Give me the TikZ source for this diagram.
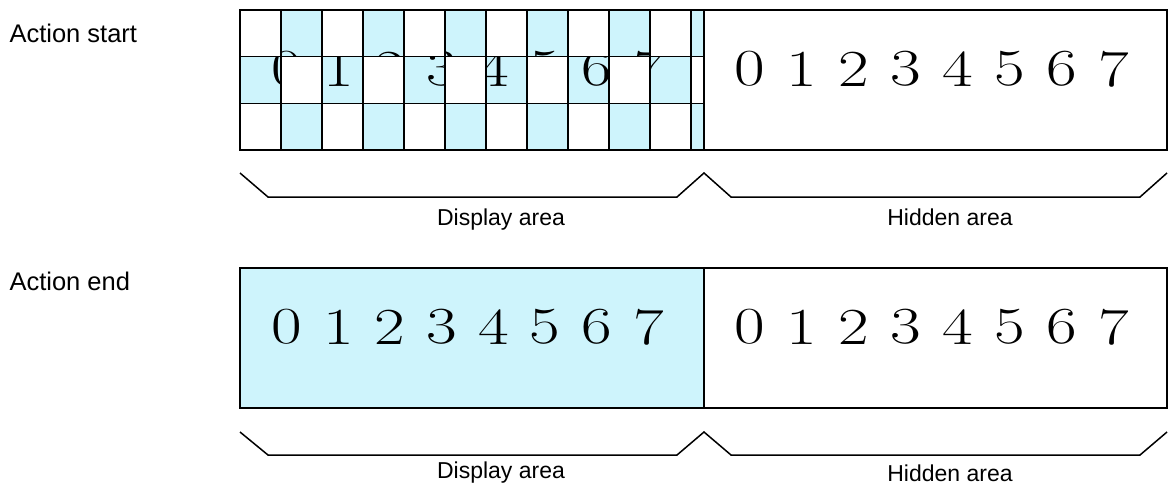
\documentclass[tikz,border=0pt]{standalone}
\usepackage{graphicx}
\usepackage{fontspec}
\newfontfamily\arialfont{Liberation Sans}
\usepackage{tikz}
\usetikzlibrary{positioning}
\usetikzlibrary{calc}
\definecolor{cellblue}{RGB}{206,244,252}

\begin{document}
\begin{tikzpicture}[
        x=1pt, y=-1pt,
        digit/.style={inner sep=0pt, font=\fontsize{52}{60}\selectfont},
        areatext/.style={inner sep=0pt, anchor=base,
                    font=\arialfont\fontsize{23}{28}\selectfont},
        rowtitle/.style={inner sep=0pt, anchor=base west,
                    font=\arialfont\fontsize{25.5}{30}\selectfont},
        frame/.style={draw, line width=1.5pt},
        brace/.style={draw, line width=1.5pt, line join=miter}
    ]
    \useasboundingbox (0,0) rectangle (1172,485);

    % ------- Action start (top row) -------
    \node[rowtitle] (tstart) at (9.3,42.7) {Action start};

    % blue cells under the digits
    \foreach \r in {0,1,2} {
        \foreach \c in {0,...,11} {
            \pgfmathtruncatemacro\s{\r+\c}
            \pgfmathsetmacro\xl{240+41*\c}
            \pgfmathsetmacro\xr{min(240+41*(\c+1),704)}
            \pgfmathsetmacro\yt{10+46.667*\r}
            \ifodd\s
                \fill[cellblue] (\xl,\yt) rectangle (\xr,\yt+46.667);
            \fi
        }
    }

    \foreach \i in {0,...,7} {
        \node[digit] (sd\i) at ({286.7+51.7*\i},69) {\scalebox{1.28}[1]{\i}};
        \node[digit] (sh\i) at ({749.7+52*\i},69) {\scalebox{1.28}[1]{\i}};
    }

    % white cells hide the digits
    \foreach \r in {0,1,2} {
        \foreach \c in {0,...,11} {
            \pgfmathtruncatemacro\s{\r+\c}
            \pgfmathsetmacro\xl{240+41*\c}
            \pgfmathsetmacro\xr{min(240+41*(\c+1),704)}
            \pgfmathsetmacro\yt{10+46.667*\r}
            \ifodd\s\else
                \fill[white] (\xl,\yt) rectangle (\xr,\yt+46.667);
            \fi
        }
    }

    % grid lines
    \foreach \c in {1,...,11}
        \draw[line width=1.5pt] ({240+41*\c},10) -- ({240+41*\c},150);
    \draw[line width=1.5pt] (240,56.667) -- (704,56.667);
    \draw[line width=1.5pt] (240,103.333) -- (704,103.333);

    \draw[frame] (240,10) rectangle (1167,150);
    \draw[frame] (704,10) -- (704,150);

    \draw[brace] (240,173) -- (268,197) -- (677,197) -- (704,173)
                 -- (731,197) -- (1140,197) -- (1167,173);
    \node[areatext] (sdisp) at (501,225.7) {Display area};
    \node[areatext] (shid) at (950,225.7) {Hidden area};

    % ------- Action end (bottom row) -------
    \node[rowtitle] (tend) at (9.3,290.7) {Action end};

    \fill[cellblue] (240,268) rectangle (704,408);
    \foreach \i in {0,...,7} {
        \node[digit] (ed\i) at ({286.7+51.7*\i},327) {\scalebox{1.28}[1]{\i}};
        \node[digit] (eh\i) at ({749.7+52*\i},327) {\scalebox{1.28}[1]{\i}};
    }
    \draw[frame] (240,268) rectangle (1167,408);
    \draw[frame] (704,268) -- (704,408);

    \draw[brace] (240,432) -- (268,455) -- (677,455) -- (704,432)
                 -- (731,455) -- (1140,455) -- (1167,432);
    \node[areatext] (edisp) at (501,478.5) {Display area};
    \node[areatext] (ehid) at (950,481.5) {Hidden area};

\end{tikzpicture}
\end{document}
